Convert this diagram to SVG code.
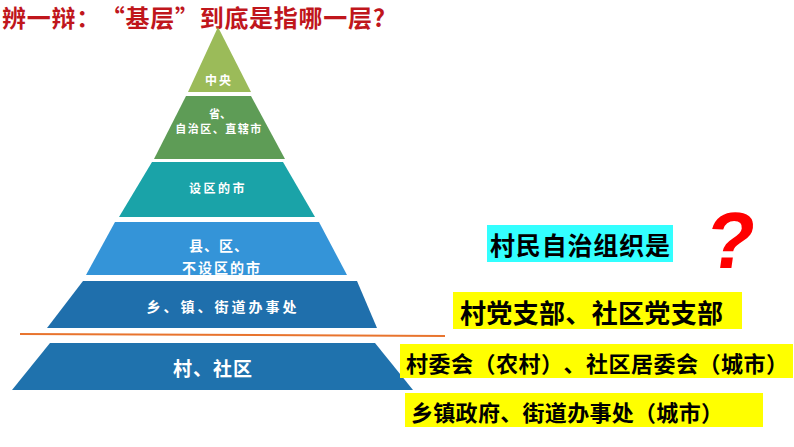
<svg xmlns="http://www.w3.org/2000/svg" width="794" height="447" viewBox="0 0 794 447">
<style>
text{text-spacing-trim:space-all}
.lbl{font-family:"Noto Sans CJK SC","Noto Sans",sans-serif;font-weight:bold;fill:#ffffff;text-anchor:middle;dominant-baseline:central}
.ans{font-family:"Noto Sans CJK SC","Noto Sans",sans-serif;font-weight:bold;fill:#000000;dominant-baseline:central}
</style>
<rect width="794" height="447" fill="#ffffff"/>
<text x="2" y="27" font-family="Noto Sans CJK SC, sans-serif" font-weight="bold" font-size="24" fill="#c0161c" textLength="383" lengthAdjust="spacing">辨一辩：“基层”到底是指哪一层?</text>
<g id="layer-zhongyang">
<polygon points="218,27 251,92 188,92" fill="#9bbb59"/>
<text class="lbl" x="219" y="79" font-size="12" letter-spacing="2">中央</text>
</g>
<g id="layer-sheng">
<polygon points="186,96 251,96 285,159 154,159" fill="#5e9c56"/>
<text class="lbl" x="220" y="113" font-size="11">省、</text>
<text class="lbl" x="219" y="128" font-size="11" letter-spacing="1.5">自治区、直辖市</text>
</g>
<g id="layer-shiqu">
<polygon points="152,162 283,162 315,217 119,217" fill="#1aa3a8"/>
<text class="lbl" x="218" y="187" font-size="12" letter-spacing="2.5">设区的市</text>
</g>
<g id="layer-xian">
<polygon points="115,222 319,222 347,275 86,275" fill="#3494d8"/>
<text class="lbl" x="219" y="245" font-size="14" letter-spacing="1">县、区、</text>
<text class="lbl" x="222" y="267" font-size="14" letter-spacing="2">不设区的市</text>
</g>
<g id="layer-xiang">
<polygon points="83,281 357,281 377,328 47,328" fill="#1f6fac"/>
<text class="lbl" x="223" y="306" font-size="14" letter-spacing="3">乡、镇、街道办事处</text>
</g>
<g id="connectors">
<line x1="20" y1="334" x2="445" y2="336" stroke="#e8742e" stroke-width="2"/>
</g>
<g id="layer-cun">
<polygon points="50,343 375,343 413,390 12,390" fill="#1f72ad"/>
<text class="lbl" x="213" y="367" font-size="19" letter-spacing="1">村、社区</text>
</g>
<g id="q-label">
<rect x="487" y="225" width="186" height="37" fill="#33ffff"/>
<text class="ans" x="490" y="244" font-size="25" textLength="180" lengthAdjust="spacing">村民自治组织是</text>
</g>
<g id="qmark">
<text x="729" y="268" font-family="Liberation Sans, sans-serif" font-weight="bold" font-size="80" fill="#ff0000" text-anchor="middle" transform="skewX(-8) translate(36,0)">?</text>
</g>
<g id="ans-dangzhibu">
<rect x="453" y="292" width="289" height="37" fill="#ffff00"/>
<text class="ans" x="460" y="311" font-size="26" textLength="263" lengthAdjust="spacing">村党支部、社区党支部</text>
</g>
<g id="ans-cunweihui">
<rect x="400" y="344" width="393" height="34" fill="#ffff00"/>
<text class="ans" x="406" y="362" font-size="22" textLength="382" lengthAdjust="spacing">村委会（农村）、社区居委会（城市）</text>
</g>
<g id="ans-xiangzhen">
<rect x="405" y="393" width="358" height="34" fill="#ffff00"/>
<text class="ans" x="411" y="411" font-size="22" textLength="312" lengthAdjust="spacing">乡镇政府、街道办事处（城市）</text>
</g>
</svg>
